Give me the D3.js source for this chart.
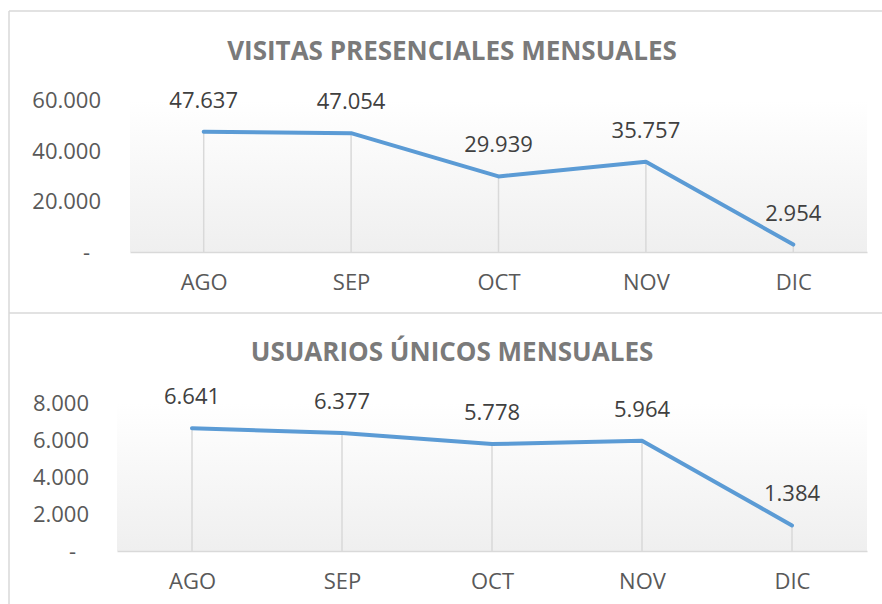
<!DOCTYPE html>
<html>
<head>
<meta charset="utf-8">
<script src="https://cdn.jsdelivr.net/npm/d3@7"></script>
<style>
  body { margin: 0; background: #fff; }
  svg { display: block; font-family: "Open Sans", sans-serif; }
</style>
</head>
<body>
<div id="chart"></div>
<script>
const W = 882;
const H = 604;

const months = ["AGO", "SEP", "OCT", "NOV", "DIC"];
const visitas = [47637, 47054, 29939, 35757, 2954];
const usuarios = [6641, 6377, 5778, 5964, 1384];
const visitasTicks = [0, 20000, 40000, 60000];
const usuariosTicks = [0, 2000, 4000, 6000, 8000];

const es = d3.formatLocale({decimal: ",", thousands: ".", grouping: [3], currency: ["", "€"]});
const fmt = es.format(",d");

function tickText(d) {
    return d === 0 ? "-" : fmt(d);
}

const svg = d3.select("#chart")
    .append("svg")
    .attr("width", W)
    .attr("height", H);

const grad = svg.append("defs").append("linearGradient")
    .attr("id", "plotbg")
    .attr("x1", 0).attr("y1", 0).attr("x2", 0).attr("y2", 1);
grad.append("stop").attr("offset", "0%").attr("stop-color", "#ffffff");
grad.append("stop").attr("offset", "100%").attr("stop-color", "#efefef");

// panel frames
svg.append("line").attr("x1", 9).attr("x2", W).attr("y1", 11).attr("y2", 11)
    .attr("stroke", "#d9d9d9").attr("stroke-width", 1.5);
svg.append("line").attr("x1", 9).attr("x2", W).attr("y1", 313).attr("y2", 313)
    .attr("stroke", "#d9d9d9").attr("stroke-width", 1.5);
svg.append("line").attr("x1", 9).attr("x2", 9).attr("y1", 11).attr("y2", H)
    .attr("stroke", "#d9d9d9").attr("stroke-width", 1.5);

function drawPanel(opt) {
    const g = svg.append("g");

    const x = d3.scalePoint()
        .domain(months)
        .range([opt.left, opt.right])
        .padding(0.5);

    const y = d3.scaleLinear()
        .domain([0, d3.max(opt.ticks)])
        .range([opt.bottom, opt.top]);

    g.append("rect")
        .attr("x", opt.left)
        .attr("y", opt.top)
        .attr("width", opt.right - opt.left)
        .attr("height", opt.bottom - opt.top)
        .attr("fill", "url(#plotbg)");

    g.append("text")
        .attr("x", opt.titleX)
        .attr("y", opt.titleY)
        .attr("text-anchor", "middle")
        .attr("font-size", "26px")
        .attr("font-weight", "bold")
        .attr("fill", "#7a7a7a")
        .text(opt.title);

    const yAxis = g.append("g")
        .attr("transform", "translate(" + opt.left + ",0)")
        .call(d3.axisLeft(y).tickValues(opt.ticks).tickFormat(tickText)
            .tickSize(0).tickPadding(opt.left - opt.labelRight));
    yAxis.select(".domain").remove();
    yAxis.selectAll("text")
        .attr("font-size", "22px")
        .attr("font-family", "Open Sans")
        .attr("fill", "#595959")
        .attr("dx", function (d) { return d === 0 ? -opt.dashShift : 0; });

    const xAxis = g.append("g")
        .attr("transform", "translate(0," + opt.bottom + ")")
        .call(d3.axisBottom(x).tickSize(0).tickSizeOuter(0));
    xAxis.select(".domain").attr("stroke", "#d9d9d9").attr("stroke-width", 1.5);
    xAxis.selectAll("text")
        .attr("dy", null)
        .attr("y", 38)
        .attr("font-size", "22px")
        .attr("font-family", "Open Sans")
        .attr("fill", "#595959");

    // drop lines
    g.selectAll(".drop")
        .data(opt.values)
        .enter()
        .append("line")
        .attr("x1", function (d, i) { return x(months[i]); })
        .attr("x2", function (d, i) { return x(months[i]); })
        .attr("y1", function (d) { return y(d); })
        .attr("y2", y(0))
        .attr("stroke", "#d9d9d9")
        .attr("stroke-width", 1.5);

    const line = d3.line()
        .x(function (d, i) { return x(months[i]); })
        .y(function (d) { return y(d); });

    g.append("path")
        .datum(opt.values)
        .attr("d", line)
        .attr("fill", "none")
        .attr("stroke", "#5b9bd5")
        .attr("stroke-width", 4)
        .attr("stroke-linejoin", "round")
        .attr("stroke-linecap", "round");

    g.selectAll(".lbl")
        .data(opt.values)
        .enter()
        .append("text")
        .attr("x", function (d, i) { return x(months[i]); })
        .attr("y", function (d) { return y(d) - 24; })
        .attr("text-anchor", "middle")
        .attr("font-size", "22px")
        .attr("fill", "#404040")
        .text(function (d) { return fmt(d); });
}

drawPanel({
    title: "VISITAS PRESENCIALES MENSUALES",
    titleX: 452, titleY: 60,
    values: visitas, ticks: visitasTicks,
    left: 130, right: 867, top: 100.5, bottom: 252,
    labelRight: 101, dashShift: 11
});

drawPanel({
    title: "USUARIOS ÚNICOS MENSUALES",
    titleX: 452, titleY: 361,
    values: usuarios, ticks: usuariosTicks,
    left: 117, right: 867, top: 403, bottom: 551,
    labelRight: 89, dashShift: 13
});
</script>
</body>
</html>
